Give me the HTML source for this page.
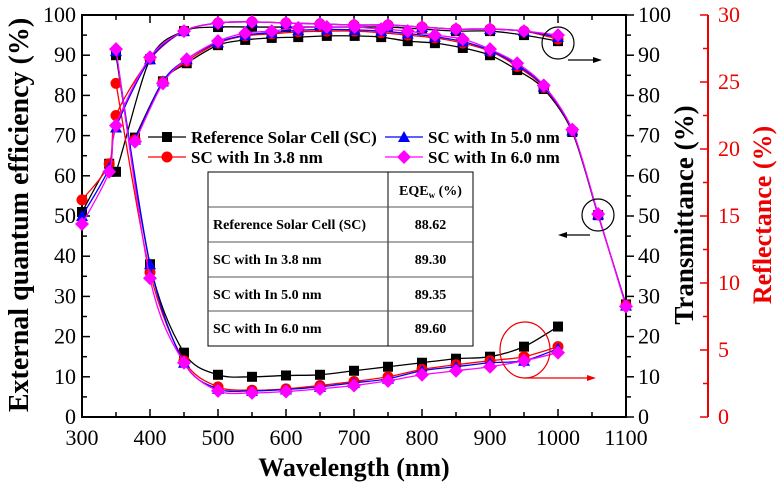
<!DOCTYPE html>
<html><head><meta charset="utf-8"><style>
body{margin:0;background:#fff}
svg{display:block;font-family:"Liberation Serif",serif}
</style></head><body>
<svg id="c" width="780" height="491" viewBox="0 0 780 491"></svg>
<script>
const tWave=[300,340,350,400,450,500,550,600,650,700,750,800,850,900,950,1000];
const tRef=[51,63,61,89,96,97,97,97,97,97,97,96.5,96,96,95,93.5];
const tIn38=[54,63,75,89,96,98,98.3,98,97.8,97.5,97.5,97,96.5,96.5,96,94];
const tIn50=[50,62,72,89,96,98,98.3,98,97.8,97.5,97.5,97,96.5,96.5,96,94.5];
const tIn60=[48,61,72.5,89.5,96,98,98.3,98,97.8,97.5,97.5,97,96.5,96.5,96,95];
const eWave=[378,419,454,500,540,579,618,660,701,740,779,819,860,900,940,979,1021,1059,1100];
const eRef=[69.5,83.5,88,92.5,93.8,94.3,94.5,94.8,94.8,94.5,93.5,93,91.8,90,86.3,81.6,70.9,50.2,28];
const eIn38=[69,83.3,88.5,93,94.8,95.3,95.8,96,96,95.6,95,94.3,93,91,87.2,82,71.2,50.3,27.8];
const eIn50=[69,83.5,89,93.2,95,95.6,96.2,96.4,96.3,96,95.4,94.6,93.4,91.2,87.6,82.2,71.3,50.4,27.7];
const eIn60=[68.5,83,89,93.5,95.5,96,96.8,97,97,96.5,96,95,94,91.5,88,82.5,71.5,50.5,27.5];
const rWave=[350,400,450,500,550,600,650,700,750,800,850,900,950,1000];
const rRef=[27,11.4,4.8,3.15,3,3.1,3.15,3.45,3.75,4.05,4.35,4.5,5.25,6.75];
const rIn38=[24.9,10.8,4.2,2.25,2.0,2.1,2.35,2.65,3.0,3.55,3.9,4.2,4.5,5.25];
const rIn50=[27.3,11.4,4.05,2.1,1.95,2.05,2.25,2.55,2.85,3.45,3.75,4.05,4.2,5.1];
const rIn60=[27.45,10.35,4.05,1.95,1.8,1.9,2.1,2.35,2.7,3.15,3.45,3.75,4.2,4.8];
const xTicks=[300,400,500,600,700,800,900,1000,1100];
const yTicks=[0,10,20,30,40,50,60,70,80,90,100];
const rTicks=[0,5,10,15,20,25,30];
const tableRows=[["Reference Solar Cell (SC)","88.62"],["SC with In 3.8 nm","89.30"],["SC with In 5.0 nm","89.35"],["SC with In 6.0 nm","89.60"]];

const svg=document.getElementById('c');const NS='http://www.w3.org/2000/svg';
const L=82,R=626,T=15,B=417;
const xs=v=>L+(v-300)*(R-L)/800;
const ys=v=>B-v*(B-T)/100;
const rs=v=>B-v*(B-T)/30;
function el(tag,a,txt){const e=document.createElementNS(NS,tag);for(const k in a)e.setAttribute(k,a[k]);if(txt!=null)e.textContent=txt;svg.appendChild(e);return e;}
function path(pts){let d='M'+pts[0][0]+','+pts[0][1];for(let i=0;i<pts.length-1;i++){const p0=pts[Math.max(0,i-1)],p1=pts[i],p2=pts[i+1],p3=pts[Math.min(pts.length-1,i+2)];const t=0.15;d+=' C'+(p1[0]+(p2[0]-p0[0])*t)+','+(p1[1]+(p2[1]-p0[1])*t)+' '+(p2[0]-(p3[0]-p1[0])*t)+','+(p2[1]-(p3[1]-p1[1])*t)+' '+p2[0]+','+p2[1];}return d;}
function marker(kind,x,y,c){let m;
 if(kind==='sq')m=el('rect',{x:x-5,y:y-5,width:10,height:10,fill:c});
 else if(kind==='ci')m=el('circle',{cx:x,cy:y,r:5.5,fill:c});
 else if(kind==='tr')m=el('polygon',{points:`${x},${y-6} ${x+6},${y+5} ${x-6},${y+5}`,fill:c});
 else m=el('polygon',{points:`${x},${y-7} ${x+7},${y} ${x},${y+7} ${x-7},${y}`,fill:c});
 return m;}
const series=[{n:'ref',c:'#000',k:'sq',t:tRef,e:eRef,r:rRef},{n:'in38',c:'#f00',k:'ci',t:tIn38,e:eIn38,r:rIn38},{n:'in50',c:'#00f',k:'tr',t:tIn50,e:eIn50,r:rIn50},{n:'in60',c:'#f0f',k:'di',t:tIn60,e:eIn60,r:rIn60}];
const fr=el('rect',{x:L,y:T,width:R-L,height:B-T,fill:'none',stroke:'#000','stroke-width':2});

for(let v=300;v<=1100;v+=50){const x=xs(v),len=v%100===0?8:5;el('line',{x1:x,y1:B,x2:x,y2:B-len,stroke:'#000','stroke-width':1.5});el('line',{x1:x,y1:T,x2:x,y2:T+len,stroke:'#000','stroke-width':1.5});}
xTicks.forEach(v=>{const t=el('text',{x:xs(v),y:B+28,'text-anchor':'middle','font-size':22},v);});
for(let v=0;v<=100;v+=5){const y=ys(v),len=v%10===0?8:5;el('line',{x1:L,y1:y,x2:L+len,y2:y,stroke:'#000','stroke-width':1.5});el('line',{x1:R,y1:y,x2:R+len,y2:y,stroke:'#000','stroke-width':1.5});}
yTicks.forEach(v=>{const a=el('text',{x:L-6,y:ys(v)+7,'text-anchor':'end','font-size':22},v);
 const b=el('text',{x:R+12,y:ys(v)+7,'font-size':22},v);});
const RX=708;el('line',{x1:RX,y1:T,x2:RX,y2:B,stroke:'#e00','stroke-width':2});
for(let v=0;v<=30;v+=2.5){const y=rs(v);el('line',{x1:RX,y1:y,x2:RX-(v%5===0?8:5),y2:y,stroke:'#e00','stroke-width':1.5});}
rTicks.forEach(v=>{const t=el('text',{x:RX+10,y:rs(v)+7,'font-size':22,fill:'#e00'},v);});
let t1=el('text',{x:0,y:0,transform:'translate(28,215) rotate(-90)','text-anchor':'middle','font-size':28,'font-weight':'bold'},'External quantum efficiency (%)');
let t2=el('text',{x:0,y:0,transform:'translate(693,215) rotate(-90)','text-anchor':'middle','font-size':27,'font-weight':'bold'},'Transmittance (%)');
let t3=el('text',{x:0,y:0,transform:'translate(771,215) rotate(-90)','text-anchor':'middle','font-size':26,'font-weight':'bold',fill:'#e00'},'Reflectance (%)');
let t4=el('text',{x:354,y:476,'text-anchor':'middle','font-size':26,'font-weight':'bold'},'Wavelength (nm)');
series.forEach(s=>{
 const tp=tWave.map((w,i)=>[xs(w),ys(s.t[i])]);const ep=eWave.map((w,i)=>[xs(w),ys(s.e[i])]);const rp=rWave.map((w,i)=>[xs(w),rs(s.r[i])]);
 [['transmittance',tp],['eqe',ep],['reflectance',rp]].forEach(([nm,pts])=>{
  const p=el('path',{d:path(pts),fill:'none',stroke:s.c,'stroke-width':1.3});
  
  pts.forEach(q=>{const m=marker(s.k,q[0],q[1],s.c);});
 });
});
el('circle',{cx:558,cy:43,r:16,fill:'none',stroke:'#000','stroke-width':1.2});
el('line',{x1:568,y1:60,x2:595,y2:60,stroke:'#000','stroke-width':1.2});el('polygon',{points:'602,60 593,57 593,63',fill:'#000'});
el('circle',{cx:598,cy:215,r:16,fill:'none',stroke:'#000','stroke-width':1.2});
el('line',{x1:590,y1:235,x2:565,y2:235,stroke:'#000','stroke-width':1.2});el('polygon',{points:'558,235 567,232 567,238',fill:'#000'});
el('ellipse',{cx:525,cy:350,rx:25,ry:28,fill:'none',stroke:'#e00','stroke-width':1.2});
el('line',{x1:525,y1:378,x2:588,y2:378,stroke:'#e00','stroke-width':1.2});el('polygon',{points:'596,378 587,375 587,381',fill:'#e00'});
const leg=[['Reference Solar Cell (SC)',148,137,0],['SC with In 3.8 nm',148,157,1],['SC with In 5.0 nm',385,137,2],['SC with In 6.0 nm',385,157,3]];
leg.forEach(([txt,x,y,i])=>{const s=series[i];el('line',{x1:x,y1:y,x2:x+38,y2:y,stroke:s.c,'stroke-width':1.3});const m=marker(s.k,x+19,y,s.c);
 const t=el('text',{x:x+43,y:y+6,'font-size':17,'font-weight':'bold'},txt);});
const TX=208,TW=265,CS=388,rowsY=[172,207,242,277,311,346];
el('rect',{x:TX,y:172,width:TW,height:174,fill:'#fff',stroke:'#000','stroke-width':1});
el('line',{x1:CS,y1:172,x2:CS,y2:346,stroke:'#000'});
rowsY.slice(1,-1).forEach(y=>el('line',{x1:TX,y1:y,x2:TX+TW,y2:y,stroke:'#555'}));
const hd=el('text',{x:(CS+TX+TW)/2,y:195,'text-anchor':'middle','font-size':14,'font-weight':'bold'});hd.innerHTML='EQE<tspan font-size="9" dy="3">w</tspan><tspan dy="-3"> (%)</tspan>';

tableRows.forEach((r,i)=>{const y=rowsY[i+1]+22;const a=el('text',{x:TX+5,y:y,'font-size':14,'font-weight':'bold'},r[0]);
 const b=el('text',{x:(CS+TX+TW)/2,y:y,'text-anchor':'middle','font-size':14,'font-weight':'bold'},r[1]);});
</script>
</body></html>
